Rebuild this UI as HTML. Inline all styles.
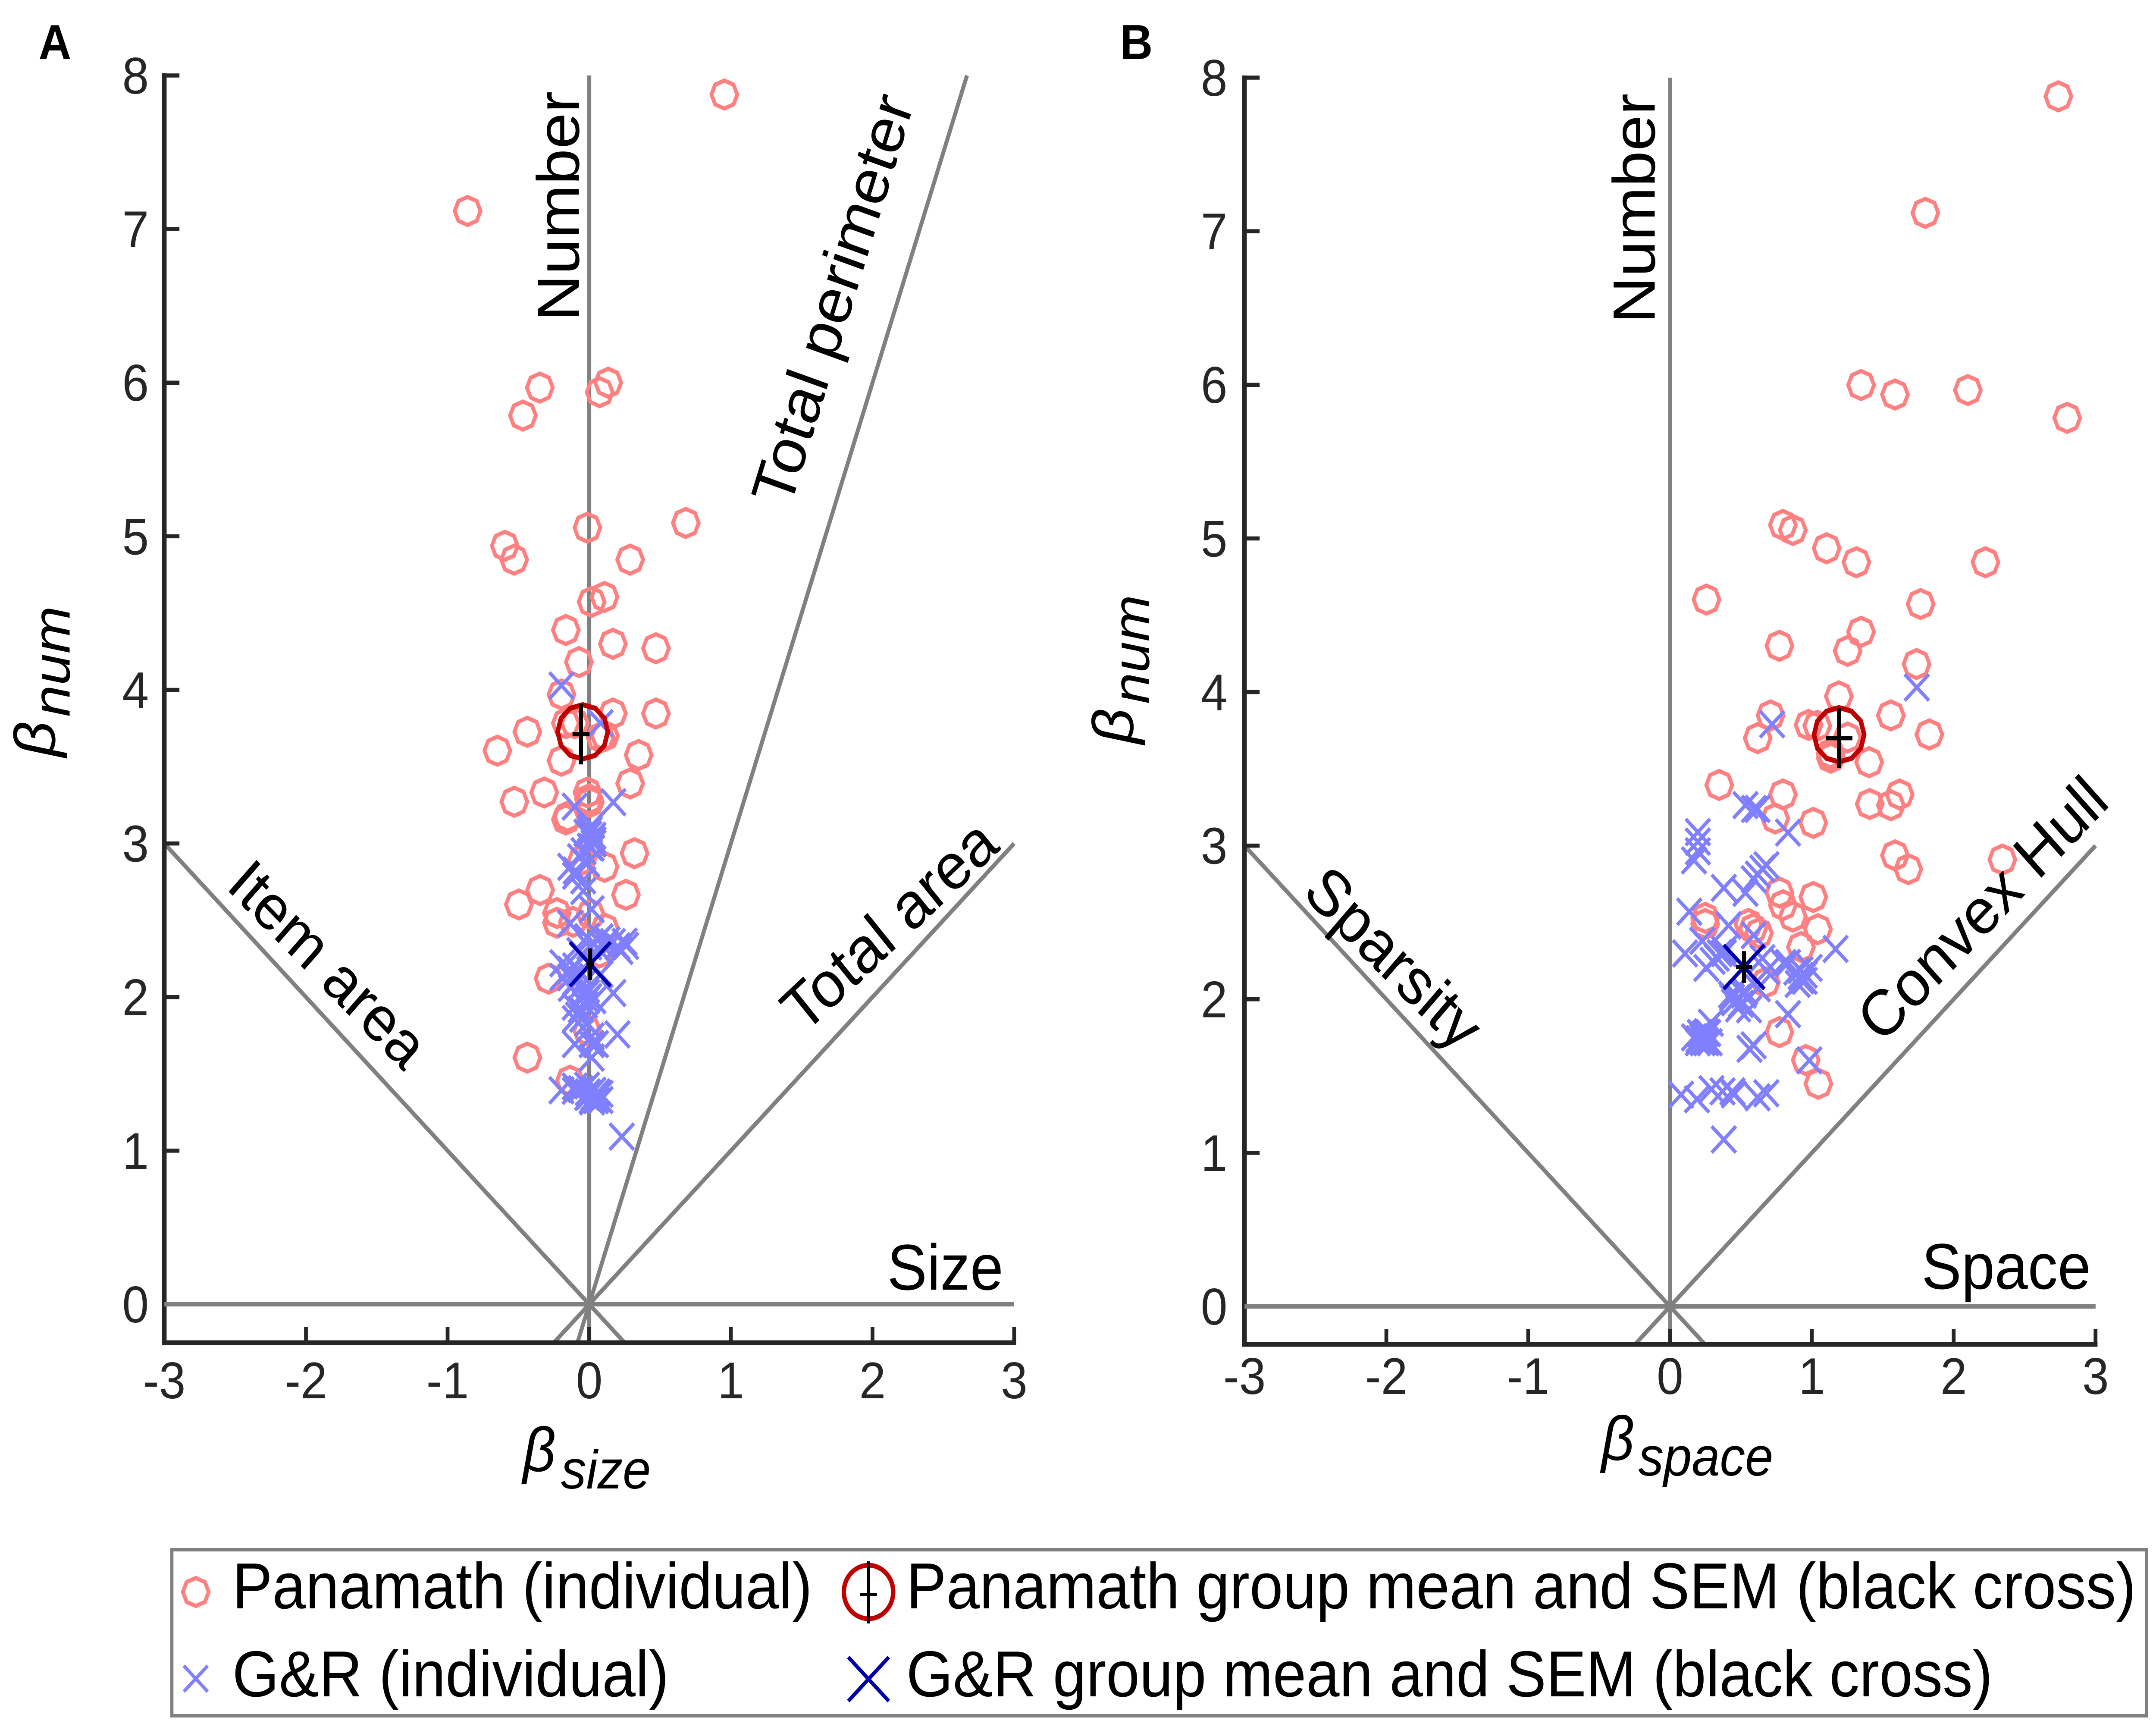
<!DOCTYPE html>
<html lang="en">
<head>
<meta charset="utf-8">
<title>Panamath and G&amp;R regression weights</title>
<style>
html,body{margin:0;padding:0;background:#fff;width:100%;height:100%;overflow:hidden;}
svg{display:block;position:absolute;left:0;top:0;width:100%;height:100%;font-family:"Liberation Sans",sans-serif;}
.tick{font-size:120px;fill:#262626;}
.anno{font-size:150px;fill:#000;}
.leg{font-size:150.7px;fill:#000;}
.beta{font-size:145px;font-style:italic;fill:#000;}
.sub{font-size:127px;font-style:italic;fill:#000;}
.panel{font-size:114px;font-weight:bold;fill:#000;}
</style>
</head>
<body>
<svg id="figure" xmlns="http://www.w3.org/2000/svg" viewBox="0 0 5419 4011" preserveAspectRatio="none">
<rect x="0" y="0" width="5419" height="4011" fill="#ffffff"/>
<g id="layer-a"></g>
<g id="layer-b"></g>

<text class="panel" x="97" y="137">A</text>
<text class="panel" x="2815" y="137">B</text>

<text class="anno" transform="translate(1455,745) rotate(-90)">Number</text>
<text class="anno" transform="translate(1985,1181) rotate(-71.6)">Total perimeter</text>
<text class="anno" transform="translate(565,2058) rotate(43.5)" style="font-size:147px">Item area</text>
<text class="anno" transform="translate(2020,2400) rotate(-41)">Total area</text>
<text class="anno" x="2230" y="2990">Size</text>

<text class="anno" transform="translate(4159,750) rotate(-90)">Number</text>
<text class="anno" transform="translate(3270,2074) rotate(43)">Sparsity</text>
<text class="anno" transform="translate(4729,2423) rotate(-44)" style="font-size:149px">Convex Hull</text>
<text class="anno" x="4830" y="2988">Space</text>

<g>
<text class="beta" x="1314" y="3411">β</text>
<text class="sub" x="1410" y="3451">size</text>
</g>
<g>
<text class="beta" x="4025" y="3385">β</text>
<text class="sub" x="4118" y="3421">space</text>
</g>
<g>
<text class="beta" transform="translate(138,1755) rotate(-90)">β</text>
<text class="sub" transform="translate(175,1662) rotate(-90)" style="font-size:132px">num</text>
</g>
<g>
<text class="beta" transform="translate(2848,1725) rotate(-90)">β</text>
<text class="sub" transform="translate(2888,1632) rotate(-90)" style="font-size:130px">num</text>
</g>

<g>
<rect x="432" y="3593" width="4963" height="385" fill="#ffffff" stroke="#808080" stroke-width="8"/>
<polygon points="492,3658.5 515,3668 524.5,3691 515,3714 492,3723.5 469,3714 459.5,3691 469,3668" fill="none" stroke="#ff8080" stroke-width="9.5"/>
<text class="leg" x="584" y="3729">Panamath (individual)</text>
<path d="M462,3862L522,3922M522,3862L462,3922" fill="none" stroke="#8080ff" stroke-width="8"/>
<text class="leg" x="584" y="3933">G&amp;R (individual)</text>
<circle cx="2183" cy="3691" r="62" fill="none" stroke="#bf0000" stroke-width="11"/>
<path d="M2183,3620V3764M2162,3697H2204" fill="none" stroke="#000000" stroke-width="8"/>
<text class="leg" x="2278" y="3729">Panamath group mean and SEM (black cross)</text>
<path d="M2132,3842L2234,3944M2234,3842L2132,3944" fill="none" stroke="#0000aa" stroke-width="9"/>
<text class="leg" x="2278" y="3933">G&amp;R group mean and SEM (black cross)</text>
</g>
</svg>

<script>
/* Axis tick values */
var xTickValues = [-3, -2, -1, 0, 1, 2, 3];
var yTickValues = [0, 1, 2, 3, 4, 5, 6, 7, 8];

/* Reference lines: end points in data units */
var guideAX1 = [0, -3, -3, 3, -0.0833];
var guideAY1 = [-0.25, 0, 3, 3, -0.25];
var guideAX2 = [0, 3, 0.25, -0.25, 2.667];
var guideAY2 = [8, 0, -0.25, -0.25, 8];
var guideBX1 = [0, -3, -3, 3];
var guideBY1 = [-0.25, 0, 3, 3];
var guideBX2 = [0, 3, 0.25, -0.25];
var guideBY2 = [8, 0, -0.25, -0.25];

/* Panel A: Panamath individuals */
var panamathAX = [0.954,-0.859,-0.349,-0.468,0.134,0.074,-0.013,0.682,-0.596,-0.53,0.289,0.017,0.108,-0.165,0.167,0.471,-0.073,-0.196,0.167,0.471,-0.165,-0.102,-0.437,0.111,0.08,-0.649,0.349,-0.196,0.289,-0.318,-0.529,-0.012,0.004,-0.002,-0.165,-0.152,0.32,-0.052,0.108,0.259,-0.347,-0.497,-0.228,-0.228,-0.115,0.01,0.111,0.073,-0.287,-0.015,-0.437,-0.136];
var panamathAY = [7.876,7.118,5.968,5.786,6.0,5.938,5.056,5.087,4.938,4.848,4.848,4.573,4.605,4.39,4.30,4.271,4.181,3.97,3.846,3.846,3.783,3.783,3.727,3.70,3.69,3.604,3.576,3.539,3.391,3.332,3.272,3.332,3.269,3.288,3.156,3.175,2.937,2.893,2.848,2.666,2.697,2.603,2.547,2.484,2.49,2.54,2.446,2.29,2.12,1.782,1.606,1.456];

/* Panel A: G&R individuals */
var grAX = [-0.196,0.08,-0.102,0.17,0.004,0.0,0.017,0.03,0.004,0.017,-0.065,-0.04,-0.134,-0.096,-0.10,-0.015,-0.042,-0.042,0.017,-0.136,-0.015,0.08,0.167,0.261,0.2,-0.134,-0.10,-0.134,0.08,0.17,-0.015,-0.102,-0.015,-0.102,-0.015,-0.102,0.199,0.017,0.017,0.017,0.048,-0.196,-0.102,-0.102,-0.015,0.048,0.08,0.017,0.08,-0.015,-0.06,0.23,0.0,0.03,0.03,0.06,-0.01,0.02,0.05,-0.015,0.0,-0.03,0.03,-0.06,-0.08,-0.05,0.06,0.1,0.13,-0.07,0.0,0.25,0.22,-0.1,-0.07,-0.04,-0.13,-0.19,-0.19,0.004,0.03,-0.02,0.02,0.03];
var grAY = [4.028,3.783,3.24,3.269,3.087,3.06,3.03,3.0,2.979,2.973,2.91,2.95,2.848,2.823,2.79,2.87,2.76,2.69,2.572,2.478,2.39,2.39,2.358,2.333,2.33,2.177,2.2,2.13,2.15,2.026,2.026,1.938,1.98,1.857,1.83,1.694,1.757,1.744,1.694,1.606,1.694,1.393,1.418,1.39,1.424,1.33,1.33,1.33,1.37,1.35,1.40,1.092,1.36,1.35,1.39,1.38,1.38,1.32,1.36,2.05,2.0,1.95,1.98,1.92,1.88,1.86,2.32,2.33,2.37,2.3,2.33,2.36,2.30,2.1,2.16,2.09,2.06,2.13,2.22,3.1,3.05,3.07,3.12,3.02];

/* Panel B: Panamath individuals */
var panamathBX = [2.738,1.80,1.347,1.586,2.10,2.80,0.796,0.866,1.104,1.314,2.224,0.257,1.767,1.347,1.252,0.771,1.738,1.19,1.557,0.709,0.618,0.977,1.038,1.828,1.252,1.133,1.133,1.404,0.347,0.796,0.742,1.01,1.408,1.557,1.619,1.586,1.68,2.343,0.771,1.01,0.796,0.866,1.043,0.248,0.248,0.553,0.627,0.586,0.923,0.676,0.771,0.957,1.046];
var panamathBY = [7.878,7.12,5.999,5.937,5.966,5.785,5.088,5.055,4.936,4.845,4.845,4.602,4.573,4.392,4.268,4.301,4.182,3.972,3.848,3.848,3.70,3.786,3.78,3.724,3.704,3.572,3.60,3.543,3.395,3.333,3.177,3.148,3.271,3.263,3.333,2.937,2.847,2.909,2.695,2.666,2.612,2.538,2.456,2.53,2.49,2.49,2.43,2.46,2.34,2.11,1.786,1.604,1.45];

/* Panel B: G&R individuals */
var grBX = [0.532,0.592,0.617,0.832,0.196,0.196,0.169,0.196,0.68,0.651,0.619,0.59,0.379,0.532,0.136,0.413,0.59,0.227,1.167,0.106,0.256,0.381,0.35,0.651,0.801,0.832,0.682,0.985,0.926,0.92,0.95,0.619,0.438,0.482,0.53,0.557,0.50,0.832,0.288,0.169,0.256,0.196,0.256,0.225,0.56,0.59,0.982,0.078,0.292,0.44,0.37,0.45,0.617,0.679,0.19,0.379,1.74,0.72,0.43,0.47,0.5,0.45,0.52,0.48,0.2,0.23,0.24,0.27,0.21,0.28,0.92,0.89,0.95,0.9,0.38,0.33,0.3];
var grBY = [3.264,3.239,3.239,3.085,3.088,3.026,2.904,2.963,2.873,2.85,2.812,2.781,2.725,2.693,2.57,2.48,2.417,2.38,2.327,2.298,2.204,2.323,2.30,2.267,2.236,2.236,2.185,2.204,2.123,2.19,2.16,2.072,2.01,2.01,2.05,1.934,1.97,1.903,1.847,1.752,1.785,1.72,1.72,1.752,1.677,1.70,1.602,1.379,1.415,1.40,1.40,1.38,1.362,1.388,1.349,1.087,4.03,3.79,2.03,2.0,1.97,1.98,2.03,1.94,1.74,1.72,1.77,1.78,1.78,1.72,2.15,2.18,2.12,2.1,2.3,2.27,2.25];

/* Group means and SEMs */
var panamathAMean = [-0.046, 3.727];
var panamathASemCentre = [-0.058, 3.712];
var panamathASem = [0.06, 0.197];
var grAMean = [0.007, 2.214];
var grASem = [0.026, 0.103];
var panamathBMean = [1.192, 3.722];
var panamathBSemCentre = [1.192, 3.70];
var panamathBSem = [0.094, 0.195];
var grBMean = [0.522, 2.21];
var grBSem = [0.057, 0.103];

var NS = 'http://www.w3.org/2000/svg';

function makeScale(d0, d1, p0, p1) {
  return function (v) { return p0 + (v - d0) * (p1 - p0) / (d1 - d0); };
}

function addLine(parent, x1, y1, x2, y2, colour, width, name) {
  var el = document.createElementNS(NS, 'line');
  el.setAttribute('x1', x1);
  el.setAttribute('y1', y1);
  el.setAttribute('x2', x2);
  el.setAttribute('y2', y2);
  el.setAttribute('stroke', colour);
  el.setAttribute('stroke-width', width);
  
  
  parent.appendChild(el);
  return el;
}

function addTickLabel(parent, x, y, anchor, label, name) {
  var el = document.createElementNS(NS, 'text');
  el.setAttribute('x', x);
  el.setAttribute('y', y);
  el.setAttribute('text-anchor', anchor);
  el.setAttribute('class', 'tick');
  
  
  el.textContent = label;
  parent.appendChild(el);
}

function addRing(parent, cx, cy, r, sides, colour, width, name) {
  var pts = [];
  for (var i = 0; i < sides; i++) {
    var a = 2 * Math.PI * i / sides;
    pts.push((cx + r * Math.sin(a)).toFixed(1) + ',' + (cy - r * Math.cos(a)).toFixed(1));
  }
  var el = document.createElementNS(NS, 'polygon');
  el.setAttribute('points', pts.join(' '));
  el.setAttribute('fill', 'none');
  el.setAttribute('stroke', colour);
  el.setAttribute('stroke-width', width);
  
  
  parent.appendChild(el);
}

function addX(parent, cx, cy, half, colour, width, name) {
  var el = document.createElementNS(NS, 'path');
  el.setAttribute('d', 'M' + (cx - half) + ',' + (cy - half) + 'L' + (cx + half) + ',' + (cy + half) +
    'M' + (cx + half) + ',' + (cy - half) + 'L' + (cx - half) + ',' + (cy + half));
  el.setAttribute('fill', 'none');
  el.setAttribute('stroke', colour);
  el.setAttribute('stroke-width', width);
  
  
  parent.appendChild(el);
}

function addSemCross(parent, sx, sy, cx, cy, ex, ey, name) {
  var el = document.createElementNS(NS, 'path');
  el.setAttribute('d', 'M' + sx(cx) + ',' + sy(cy + ey) + 'L' + sx(cx) + ',' + sy(cy - ey) +
    'M' + sx(cx - ex) + ',' + sy(cy) + 'L' + sx(cx + ex) + ',' + sy(cy));
  el.setAttribute('fill', 'none');
  el.setAttribute('stroke', '#000000');
  el.setAttribute('stroke-width', 10);
  
  
  parent.appendChild(el);
}

function drawPanel(id, geom, gx1, gy1, gx2, gy2, pX, pY, gX, gY, pMean, pCentre, pSem, gMean, gSem, tag) {
  var g = document.getElementById(id);
  var sx = makeScale(-3, 3, geom.left, geom.right);
  var sy = makeScale(0, 8, geom.y0, geom.y8);
  var i;

  for (i = 0; i < gx1.length; i++) {
    addLine(g, sx(gx1[i]), sy(gy1[i]), sx(gx2[i]), sy(gy2[i]), '#808080', 10, 'guide-line-' + tag);
  }

  addLine(g, geom.left, geom.bottom + 5.5, geom.left, geom.y8 - 5, '#262626', 11.5, 'y-axis-' + tag);
  addLine(g, geom.left - 5.5, geom.bottom, geom.right + 5, geom.bottom, '#262626', 11, 'x-axis-' + tag);

  xTickValues.forEach(function (v) {
    addLine(g, sx(v), geom.bottom, sx(v), geom.bottom - 36, '#262626', 9.5, 'x-tick-' + tag);
    addTickLabel(g, sx(v), geom.xLabelY, 'middle', String(v), 'x-tick-label-' + tag);
  });
  yTickValues.forEach(function (v) {
    addLine(g, geom.left, sy(v), geom.left + 38, sy(v), '#262626', 9.5, 'y-tick-' + tag);
    addTickLabel(g, geom.yLabelX, sy(v) + 42, 'end', String(v), 'y-tick-label-' + tag);
  });

  /* re-draw the zero line so it sits over the zero tick */
  addLine(g, sx(-3), sy(0), sx(3), sy(0), '#808080', 10, 'zero-line-' + tag);

  for (i = 0; i < pX.length; i++) {
    addRing(g, sx(pX[i]), sy(pY[i]), 32.5, 8, '#ff8080', 9.5, 'panamath-point-' + tag);
  }
  for (i = 0; i < gX.length; i++) {
    addX(g, sx(gX[i]), sy(gY[i]), 30.5, '#8080ff', 8.5, 'gr-point-' + tag);
  }
  addRing(g, sx(pMean[0]), sy(pMean[1]), 63, 12, '#bf0000', 11.5, 'panamath-mean-' + tag);
  addSemCross(g, sx, sy, pCentre[0], pCentre[1], pSem[0], pSem[1], 'panamath-sem-cross-' + tag);
  addX(g, sx(gMean[0]), sy(gMean[1]), 51, '#0000aa', 9, 'gr-mean-' + tag);
  addSemCross(g, sx, sy, gMean[0], gMean[1], gSem[0], gSem[1], 'gr-sem-cross-' + tag);
}

drawPanel('layer-a',
  {left: 413, right: 2549, y0: 3024, y8: 175, bottom: 3113, xLabelY: 3242, yLabelX: 374},
  guideAX1, guideAY1, guideAX2, guideAY2,
  panamathAX, panamathAY, grAX, grAY,
  panamathAMean, panamathASemCentre, panamathASem, grAMean, grASem, 'a');

drawPanel('layer-b',
  {left: 3128, right: 5267, y0: 3029, y8: 180, bottom: 3117, xLabelY: 3232, yLabelX: 3085},
  guideBX1, guideBY1, guideBX2, guideBY2,
  panamathBX, panamathBY, grBX, grBY,
  panamathBMean, panamathBSemCentre, panamathBSem, grBMean, grBSem, 'b');
</script>
</body>
</html>
